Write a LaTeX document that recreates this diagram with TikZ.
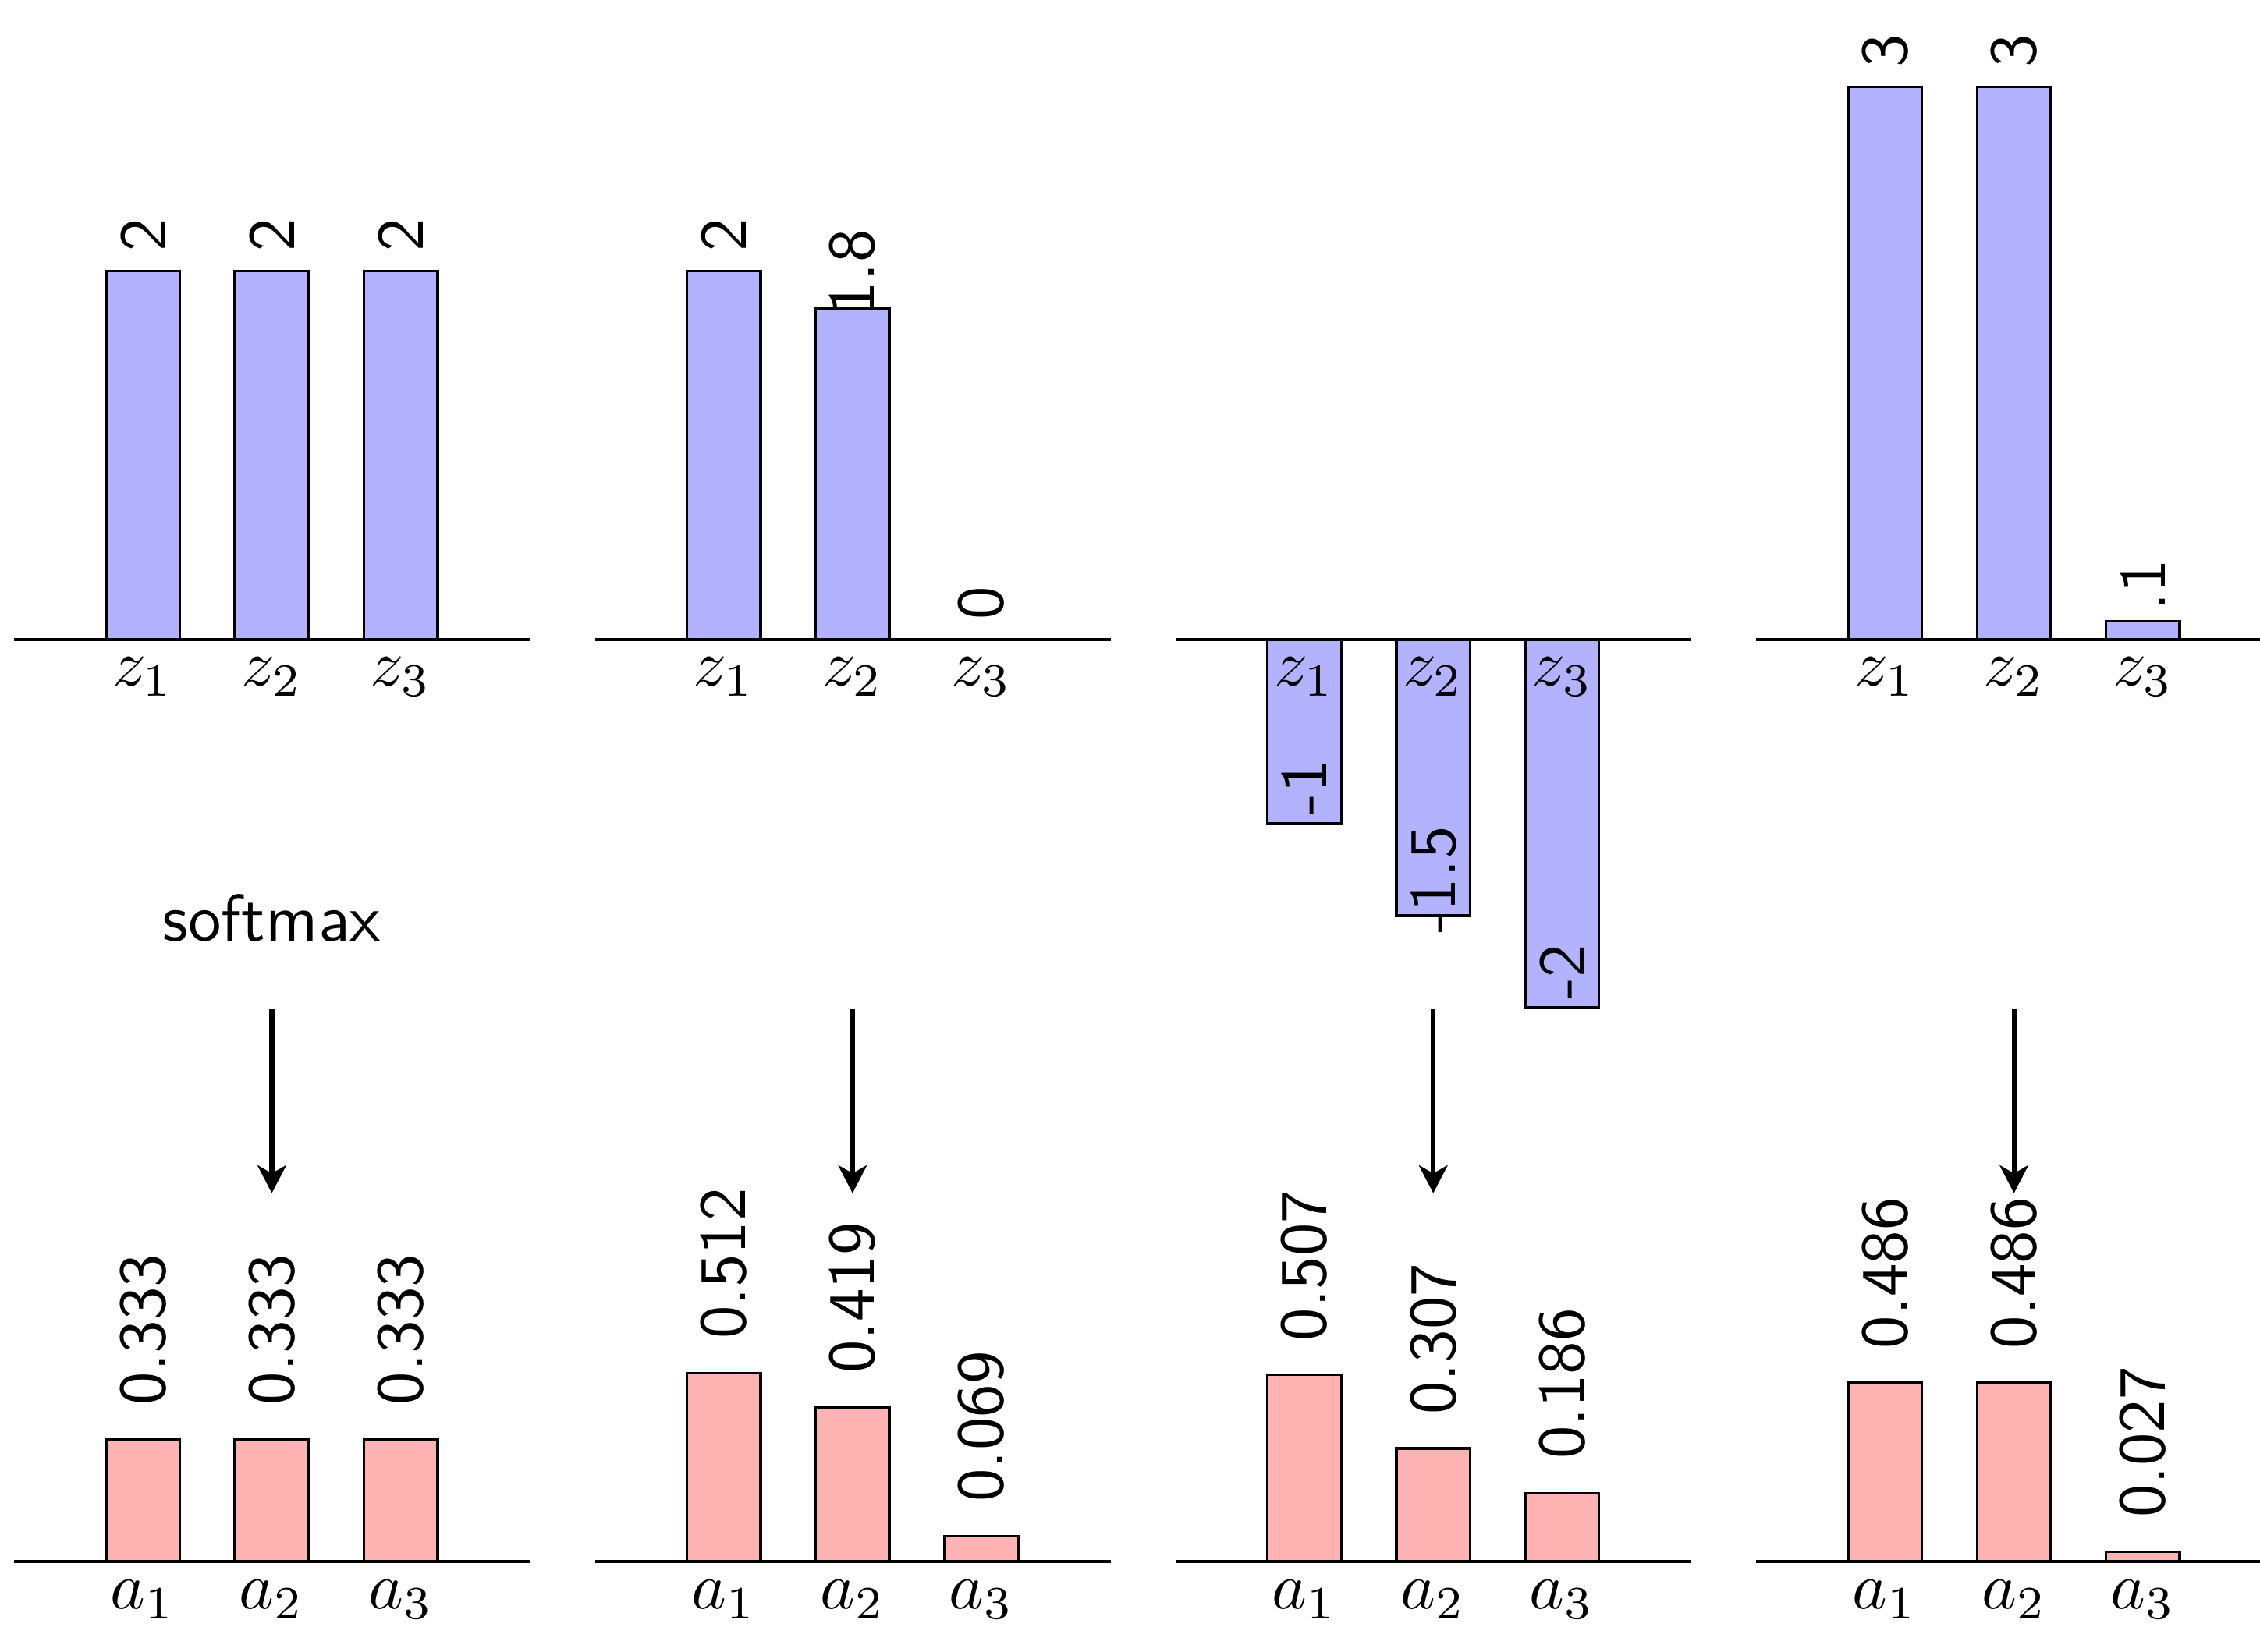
\documentclass[tikz,border=0pt]{standalone}
\usetikzlibrary{arrows.meta}
\definecolor{zfill}{rgb}{0.7,0.7,1}
\definecolor{afill}{rgb}{1,0.7,0.7}
\begin{document}
\begin{tikzpicture}[x=0.2174pt,y=-0.2174pt,
  zbar/.style={draw=black,line width=0.4pt,fill=zfill},
  abar/.style={draw=black,line width=0.4pt,fill=afill},
  axisline/.style={draw=black,line width=0.4pt},
  vallabel/.style={font=\sffamily,rotate=90,inner sep=0pt},
  ticklabel/.style={anchor=base,inner sep=0pt},
  flow/.style={line width=0.74pt,-{Stealth[length=4.2pt,width=4.3pt,inset=1.2pt]}}]
\useasboundingbox (0,0) rectangle (1568,1146.3);
% bars and labels
\foreach \k/\i/\z/\zl/\a in {
  0/1/2/2/0.333, 0/2/2/2/0.333, 0/3/2/2/0.333,
  1/1/2/2/0.512, 1/2/1.8/1.8/0.419, 1/3/0/0/0.069,
  2/1/-1/-1/0.507, 2/2/-1.5/-1.5/0.307, 2/3/-2/-2/0.186,
  3/1/3/3/0.486, 3/2/3/3/0.486, 3/3/0.1/.1/0.027}{
  \pgfmathsetmacro\cx{9.8+402.9*\k+89.4*\i}
  \pgfmathsetmacro\ty{443.8-127.8*\z}
  \pgfmathsetmacro\by{1083.6-255.4*\a}
  \draw[zbar] (\cx-25.6,443.8) rectangle (\cx+25.6,\ty);
  \draw[abar] (\cx-25.6,1083.6) rectangle (\cx+25.6,\by);
}
% axes
\foreach \k in {0,1,2,3}{
  \pgfmathsetmacro\ox{9.8+402.9*\k}
  \coordinate (ztL-\k) at (\ox,443.8);
  \coordinate (ztR-\k) at (\ox+357.8,443.8);
  \coordinate (abL-\k) at (\ox,1083.6);
  \coordinate (abR-\k) at (\ox+357.8,1083.6);
  \draw[axisline] (ztL-\k) -- (ztR-\k);
  \draw[axisline] (abL-\k) -- (abR-\k);
  \coordinate (arS-\k) at (\ox+178.8,700);
  \coordinate (arE-\k) at (\ox+178.8,828);
  \draw[flow] (arS-\k) -- (arE-\k);
}
% labels
\foreach \k/\i/\z/\zl/\a in {
  0/1/2/2/0.333, 0/2/2/2/0.333, 0/3/2/2/0.333,
  1/1/2/2/0.512, 1/2/1.8/1.8/0.419, 1/3/0/0/0.069,
  2/1/-1/-1/0.507, 2/2/-1.5/-1.5/0.307, 2/3/-2/-2/0.186,
  3/1/3/3/0.486, 3/2/3/3/0.486, 3/3/0.1/.1/0.027}{
  \pgfmathsetmacro\cx{9.8+402.9*\k+89.4*\i}
  \pgfmathsetmacro\ty{443.8-127.8*\z}
  \pgfmathsetmacro\by{1083.6-255.4*\a}
  \node[vallabel] (zv-\k-\i) at (\cx,\ty-25) {\zl};
  \node[ticklabel] (zt-\k-\i) at (\cx,476.1) {$z_{\i}$};
  \node[vallabel] (av-\k-\i) at (\cx,\by-76) {\a};
  \node[ticklabel] (at-\k-\i) at (\cx,1116.2) {$a_{\i}$};
}
\node[font=\sffamily,anchor=base,inner sep=0pt] (softmax) at (188.6,653) {softmax};
\end{tikzpicture}
\end{document}
